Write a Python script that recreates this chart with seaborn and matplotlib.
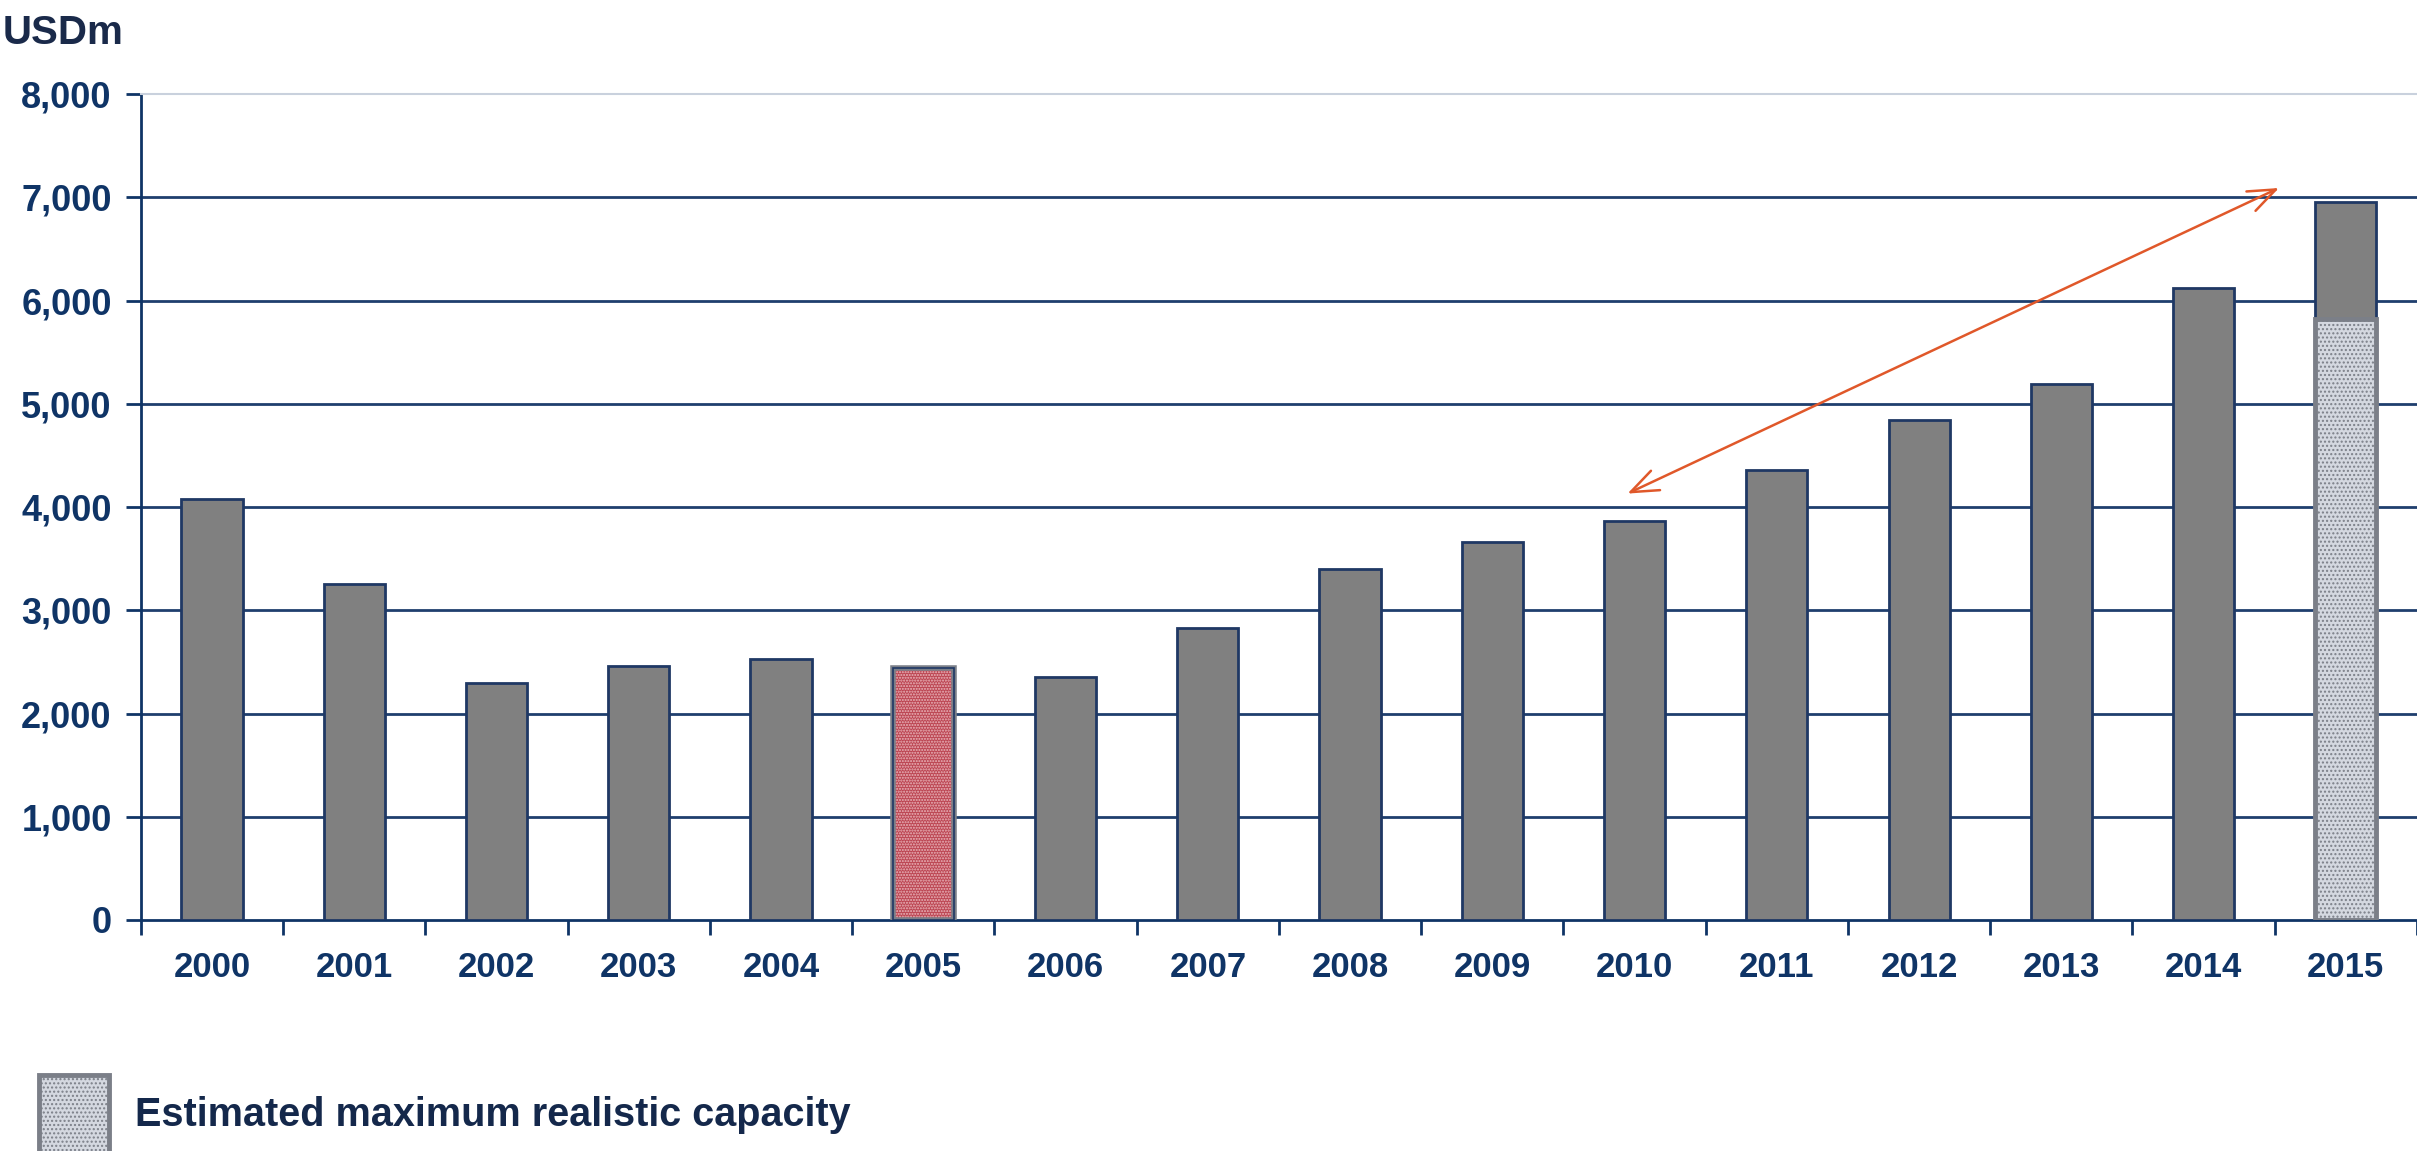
import matplotlib
matplotlib.use("Agg")
import matplotlib.pyplot as plt
from matplotlib.patches import Rectangle
import seaborn as sns
import pandas as pd

# Annual values, USD millions
years = [str(y) for y in range(2000, 2016)]
values = [4080, 3250, 2300, 2460, 2530, 2440, 2350, 2830, 3400, 3660,
          3860, 4360, 4840, 5190, 6120, 6950]
highlight_year = "2005"
capacity_years = ["2015"]
capacity_values = [5820]
y_ticks = [0, 1000, 2000, 3000, 4000, 5000, 6000, 7000, 8000]
unit_label = "USDm"
legend_label = "Estimated maximum realistic capacity"

NAVY = "#0f3466"
GRID = "#1f3f6e"
BAR_EDGE = "#1f3864"
BAR_GREY = "#808080"
ARROW = "#e0582a"

sns.set_theme(style="white")
plt.rcParams["font.family"] = ["Liberation Sans", "DejaVu Sans"]

fig = plt.figure(figsize=(24.17, 11.51), dpi=100)
ax = fig.add_axes([0.0583, 0.2007, 0.9417, 0.7176])

df = pd.DataFrame({"year": years, "value": values})
sns.barplot(data=df, x="year", y="value", order=years, color=BAR_GREY,
            saturation=1, width=0.43, edgecolor=BAR_EDGE, linewidth=2,
            ax=ax, zorder=3)

# Highlighted year: red dotted fill with a grey frame
idx = years.index(highlight_year)
p = ax.patches[idx]
p.set_facecolor("#bc4552")
p.set_hatch("......")
p.set_edgecolor("#eab8bd")
p.set_linewidth(0)
ax.add_patch(Rectangle((p.get_x(), 0), p.get_width(), p.get_height(),
                       fill=False, edgecolor="#7b7f88", linewidth=4, zorder=4))
ax.add_patch(Rectangle((p.get_x(), 0), p.get_width(), p.get_height(),
                       fill=False, edgecolor=BAR_EDGE, linewidth=1.2, zorder=4))

# Capacity estimate overlaid on the final year
n_before = len(ax.patches)
cap = pd.DataFrame({"year": capacity_years, "value": capacity_values})
sns.barplot(data=cap, x="year", y="value", order=years, color="#d4d8e0",
            saturation=1, width=0.43, edgecolor="#7b7f88", linewidth=3.5,
            ax=ax, zorder=5)
for cp in ax.patches[n_before:]:
    cp.set_hatch("....")

# Gridlines behind the bars
for t in y_ticks[1:-1]:
    ax.axhline(t, color=GRID, linewidth=2, zorder=1)

ax.set_ylim(0, 8000)
ax.set_xlim(-0.5, len(years) - 0.5)
ax.set_yticks(y_ticks)
ax.set_yticklabels([f"{t:,}" for t in y_ticks])
ax.set_xlabel("")
ax.set_ylabel("")

# Category ticks sit on the boundaries between years
ax.set_xticks([i + 0.5 for i in range(-1, len(years))], minor=False)
ax.set_xticklabels([""] * (len(years) + 1))
ax.set_xticks(range(len(years)), minor=True)
ax.set_xticklabels(years, minor=True)
ax.tick_params(axis="x", which="major", direction="out", length=11, width=2,
               color=NAVY, bottom=True)
ax.tick_params(axis="x", which="minor", length=0, pad=22, labelsize=25,
               labelcolor=NAVY)
ax.tick_params(axis="y", direction="out", length=11, width=2, color=NAVY,
               left=True, labelsize=26, labelcolor=NAVY, pad=10)
for lab in ax.get_xticklabels(minor=True) + ax.get_yticklabels():
    lab.set_fontweight("bold")

for side in ["left", "bottom"]:
    ax.spines[side].set_color(NAVY)
    ax.spines[side].set_linewidth(2)
ax.spines["right"].set_visible(False)
ax.spines["top"].set_color("#c9d1dd")
ax.spines["top"].set_linewidth(1.5)

# Growth arrow
ax.annotate("", xy=(9.95, 4130), xytext=(14.53, 7090),
            arrowprops=dict(arrowstyle="<->,head_length=0.9,head_width=0.35",
                            color=ARROW, lw=1.8, mutation_scale=22,
                            shrinkA=0, shrinkB=0), zorder=6)

fig.text(0.001, 0.988, unit_label, ha="left", va="top", fontsize=29,
         fontweight="bold", color="#1a2a4a")

# Legend swatch and label
fig.patches.append(Rectangle((0.016, -0.02), 0.029, 0.086, transform=fig.transFigure,
                             facecolor="#d4d8e0", edgecolor="#7b7f88",
                             linewidth=3.5, hatch="....", figure=fig))
fig.text(0.056, 0.031, legend_label, ha="left", va="center", fontsize=28.5,
         fontweight="bold", color="#14284b")

fig.savefig("out.png", dpi=100)
